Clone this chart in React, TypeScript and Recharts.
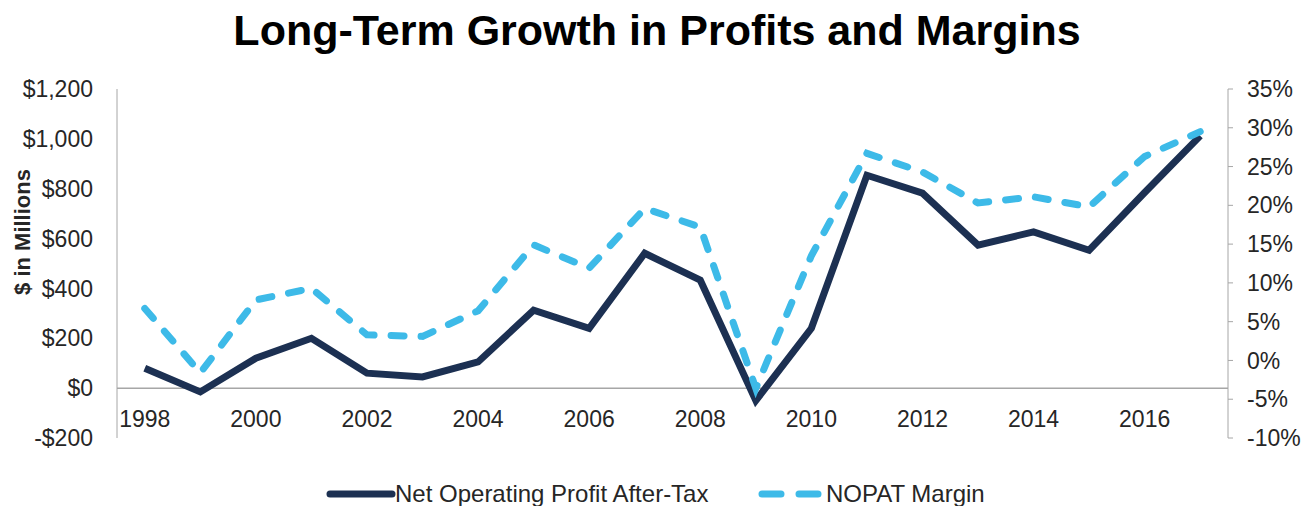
import { ComposedChart, Line, XAxis, YAxis, ReferenceLine } from "recharts";

const years = [
  "1998", "1999", "2000", "2001", "2002", "2003", "2004", "2005", "2006", "2007",
  "2008", "2009", "2010", "2011", "2012", "2013", "2014", "2015", "2016", "2017",
];

// $ millions
const nopat = [80, -15, 120, 200, 60, 45, 105, 313, 240, 541, 433, -50, 240, 854, 782, 574, 627, 553, 785, 1012];

// percent
const nopatMargin = [6.7, -1.6, 7.8, 9.3, 3.3, 3.1, 6.4, 14.9, 11.9, 19.6, 17.2, -3.6, 13.5, 26.7, 24.3, 20.3, 21.1, 19.8, 26.3, 29.5];

const leftTicks = [-200, 0, 200, 400, 600, 800, 1000, 1200];
const rightTicks = [-10, -5, 0, 5, 10, 15, 20, 25, 30, 35];
const xTicks = years.filter((_, i) => i % 2 === 0);

const data = years.map((year, i) => ({ year, nopat: nopat[i], margin: nopatMargin[i] }));

const DARK = "#1c3052";
const LIGHT = "#3dbae8";
const AXIS = "#a6a6a6";
const FONT = "'Liberation Sans', Arial, sans-serif";

const fmtDollar = (v: number) =>
  v < 0 ? `-$${Math.abs(v).toLocaleString("en-US")}` : `$${v.toLocaleString("en-US")}`;

const YearTick = (props: any) => {
  const { x, y, payload } = props;
  return (
    <text x={x} y={y - 11} textAnchor="middle" fontSize={23} fill="#262626" fontFamily={FONT}>
      {payload.value}
    </text>
  );
};

export default function App() {
  return (
    <div style={{ position: "absolute", left: 0, top: 0, width: 1314, height: 506, fontFamily: FONT, background: "#fff" }}>
      <div
        style={{
          position: "absolute",
          top: 5,
          left: 0,
          width: 1314,
          textAlign: "center",
          fontSize: 43,
          fontWeight: "bold",
          lineHeight: "50px",
          color: "#000",
        }}
      >
        Long-Term Growth in Profits and Margins
      </div>

      <div
        style={{
          position: "absolute",
          left: 23,
          top: 232,
          transform: "translate(-50%, -50%) rotate(-90deg)",
          fontSize: 22,
          fontWeight: "bold",
          color: "#262626",
          whiteSpace: "nowrap",
        }}
      >
        $ in Millions
      </div>

      <ComposedChart
        width={1314}
        height={506}
        data={data}
        margin={{ top: 89, right: 0, bottom: 38, left: 0 }}
        style={{ position: "absolute", left: 0, top: 0 }}
      >
        <XAxis
          dataKey="year"
          scale="band"
          ticks={xTicks}
          interval={0}
          axisLine={false}
          tickLine={false}
          tickSize={0}
          tickMargin={0}
          height={30}
          tick={<YearTick />}
        />
        <YAxis
          yAxisId="left"
          domain={[-200, 1200]}
          ticks={leftTicks}
          width={117}
          tickLine={false}
          tickSize={6}
          tickMargin={18}
          axisLine={{ stroke: AXIS }}
          tick={{ fontSize: 23, fill: "#262626", fontFamily: FONT }}
          tickFormatter={fmtDollar}
        />
        <YAxis
          yAxisId="right"
          orientation="right"
          domain={[-10, 35]}
          ticks={rightTicks}
          width={86}
          tickSize={5}
          tickMargin={14}
          tickLine={{ stroke: AXIS }}
          axisLine={{ stroke: AXIS }}
          tick={{ fontSize: 23, fill: "#262626", fontFamily: FONT }}
          tickFormatter={(v: number) => `${v}%`}
        />
        <ReferenceLine yAxisId="left" y={0} stroke={AXIS} strokeWidth={1.5} />
        <Line
          yAxisId="left"
          type="linear"
          dataKey="nopat"
          stroke={DARK}
          strokeWidth={7}
          dot={false}
          isAnimationActive={false}
        />
        <Line
          yAxisId="right"
          type="linear"
          dataKey="margin"
          stroke={LIGHT}
          strokeWidth={7}
          strokeDasharray="13 17"
          strokeLinecap="round"
          dot={false}
          isAnimationActive={false}
        />
      </ComposedChart>

      <svg width={1314} height={30} style={{ position: "absolute", left: 0, top: 478 }}>
        <line x1={330} y1={16} x2={392} y2={16} stroke={DARK} strokeWidth={7} strokeLinecap="round" />
        <text x={395} y={24} fontSize={24} fill="#262626" fontFamily={FONT}>
          Net Operating Profit After-Tax
        </text>
        <line x1={762} y1={16} x2={818} y2={16} stroke={LIGHT} strokeWidth={7} strokeDasharray="19 18" strokeLinecap="round" />
        <text x={826} y={24} fontSize={24} fill="#262626" fontFamily={FONT}>
          NOPAT Margin
        </text>
      </svg>
    </div>
  );
}
